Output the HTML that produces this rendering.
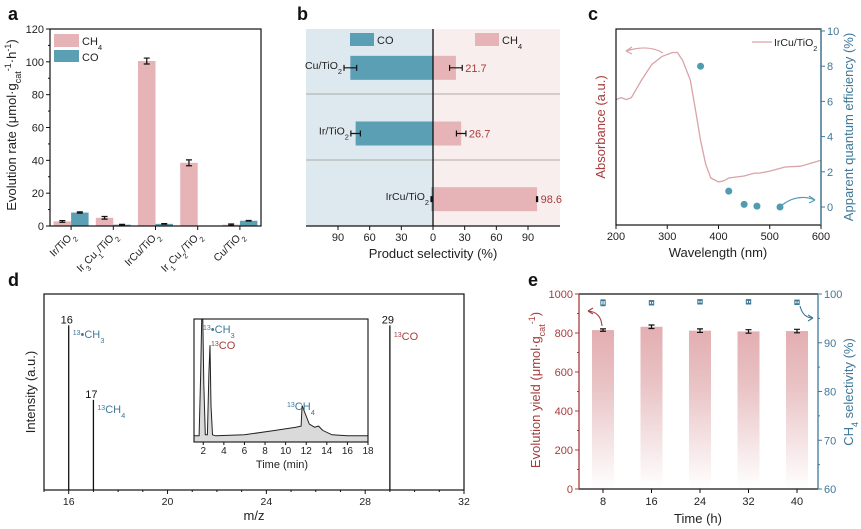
<!DOCTYPE html>
<html><head><meta charset="utf-8"><style>
html,body{margin:0;padding:0;background:#fff}
svg{display:block;font-family:"Liberation Sans",Arial,sans-serif}
</style></head><body>
<svg id="fig" width="861" height="529" viewBox="0 0 861 529" xmlns="http://www.w3.org/2000/svg">
<defs>
<linearGradient id="fade" x1="0" y1="0" x2="0" y2="1">
<stop offset="0" stop-color="#e3aeb1"/><stop offset="0.35" stop-color="#e9c3c5"/><stop offset="1" stop-color="#ffffff"/>
</linearGradient>
</defs>
<g font-weight="bold" font-size="18" fill="#111">
<text x="8" y="20">a</text>
<text x="297" y="20">b</text>
<text x="588" y="20">c</text>
<text x="8" y="286">d</text>
<text x="528" y="286">e</text>
</g>
<g id="pa"></g>
<g id="pb"></g>
<g id="pc"></g>
<g id="pd"></g>
<g id="pe"></g>
</svg>
<script>
// ---- Panel a data
const aCats = ["Ir/TiO|2", "Ir|3|Cu|1|/TiO|2", "IrCu/TiO|2", "Ir|1|Cu|2|/TiO|2", "Cu/TiO|2"];
const aCH4 = [2.8, 5.0, 100.5, 38.5, 0.8];
const aCH4Err = [0.5, 0.8, 1.8, 1.8, 0.4];
const aCO = [8.2, 0.8, 1.3, 0, 3.2];
const aCOErr = [0.4, 0.2, 0.2, 0, 0.2];
const aTicks = [0, 20, 40, 60, 80, 100, 120];
// ---- Panel b data
const bCats = ["Cu/TiO|2", "Ir/TiO|2", "IrCu/TiO|2"];
const bCO = [78.3, 73.3, 1.4];
const bCOErr = [6, 4.5, 0.5];
const bCH4 = [21.7, 26.7, 98.6];
const bCH4Err = [6, 4.5, 0.5];
const bTicks = [-90, -60, -30, 0, 30, 60, 90];
// ---- Panel c data
const cWave = [200,210,220,230,250,270,290,310,320,330,345,355,365,375,385,400,410,420,450,470,480,500,530,560,600];
const cAbs = [64,65,64,65,74,82,86,88,88,84,74,59,43,31,24,22,22.5,24,25,26.5,26.5,27.5,29.6,30,33];
const cAqeWave = [365, 420, 450, 475, 520];
const cAqe = [8.0, 0.9, 0.15, 0.05, 0.0];
const cXTicks = [200, 300, 400, 500, 600];
const cYTicks = [0, 2, 4, 6, 8, 10];
// ---- Panel d data
const dMz = [16, 17, 29];
const dInt = [0.84, 0.46, 0.84];
const dXTicks = [16, 20, 24, 28, 32];
const gcTime = [1.1,1.6,1.75,1.85,1.95,2.05,2.2,2.4,2.55,2.65,2.75,2.9,3.2,6,9,11,11.5,11.6,11.8,12.3,12.8,13.2,13.6,14.5,16,18];
const gcSig = [0.02,0.02,0.6,1.3,1.3,0.5,0.03,0.03,0.6,0.86,0.3,0.03,0.02,0.03,0.07,0.1,0.11,0.3,0.25,0.13,0.1,0.11,0.07,0.03,0.02,0.02];
const gcTicks = [2,4,6,8,10,12,14,16,18];
// ---- Panel e data
const eTime = [8, 16, 24, 32, 40];
const eYield = [815, 832, 812, 808, 810];
const eYieldErr = [6, 9, 9, 9, 9];
const eSel = [98.2, 98.2, 98.4, 98.4, 98.3];
const eSelErr = [0.6, 0.3, 0.3, 0.3, 0.3];
const eYTicks = [0, 200, 400, 600, 800, 1000];
const eY2Ticks = [60, 70, 80, 90, 100];

const NS = "http://www.w3.org/2000/svg";
function mk(parent, tag, attrs, text) {
  const e = document.createElementNS(NS, tag);
  for (const k in attrs) e.setAttribute(k, attrs[k]);
  if (text !== undefined) e.textContent = text;
  parent.appendChild(e);
  return e;
}
// label with "base|sub|base|sub" pattern
function subText(parent, attrs, spec, fs) {
  const t = mk(parent, "text", attrs);
  const parts = spec.split("|");
  parts.forEach((p, i) => {
    const ts = mk(t, "tspan", i % 2 ? {"font-size": fs * 0.7, "baseline-shift": "sub"} : {}, p);
  });
  return t;
}
const PINK = "#e6b4b7", TEAL = "#5a9fb3", RED = "#a63c3c", BLUE = "#3f7898";

// ================= Panel A
(function () {
  const g = document.getElementById("pa");
  const L = 50, R = 261, T = 29, B = 226;
  const y = v => B - (v / 120) * (B - T);
  const cw = (R - L) / aCats.length;
  const cx = i => L + cw * (i + 0.5);
  const bw = 17.5;
  aCats.forEach((c, i) => {
    const r1 = mk(g, "rect", {x: cx(i) - bw, y: y(aCH4[i]), width: bw, height: B - y(aCH4[i]), fill: PINK});
    
    
    const r2 = mk(g, "rect", {x: cx(i), y: y(aCO[i]), width: bw, height: B - y(aCO[i]), fill: TEAL});
    
    
    [[cx(i) - bw / 2, aCH4[i], aCH4Err[i]], [cx(i) + bw / 2, aCO[i], aCOErr[i]]].forEach(([xx, v, e]) => {
      if (v <= 0) return;
      const eb = mk(g, "path", {d: `M${xx},${y(v + e)}V${y(v - e)}M${xx - 3},${y(v + e)}H${xx + 3}M${xx - 3},${y(v - e)}H${xx + 3}`, stroke: "#111", "stroke-width": 1.2, fill: "none"});
      
      
    });
    const lab = subText(g, {x: cx(i) + 4, y: B + 10, "font-size": 10.5, fill: "#222", "text-anchor": "end", transform: `rotate(-45 ${cx(i) + 4} ${B + 10})`}, c, 10.5);
    
    
    mk(g, "line", {x1: cx(i), x2: cx(i), y1: B, y2: B + 4, stroke: "#111"});
  });
  aTicks.forEach(t => {
    mk(g, "line", {x1: L - 4, x2: L, y1: y(t), y2: y(t), stroke: "#111"});
    if (t < 120) mk(g, "line", {x1: L - 2, x2: L, y1: y(t + 10), y2: y(t + 10), stroke: "#111"});
    const tl = mk(g, "text", {x: L - 6, y: y(t) + 4, "font-size": 11, fill: "#222", "text-anchor": "end"}, t);
    
    
  });
  mk(g, "rect", {x: L, y: T, width: R - L, height: B - T, fill: "none", stroke: "#111", "stroke-width": 1.2,  });
  const yt = mk(g, "text", {x: 0, y: 0, "font-size": 13, fill: "#222", "text-anchor": "middle", transform: "translate(16 125) rotate(-90)",  });
  mk(yt, "tspan", {}, "Evolution rate (μmol·g");
  mk(yt, "tspan", {"font-size": 9, "baseline-shift": "sub"}, "cat");
  mk(yt, "tspan", {"font-size": 9, "baseline-shift": "super"}, "-1");
  mk(yt, "tspan", {}, "·h");
  mk(yt, "tspan", {"font-size": 9, "baseline-shift": "super"}, "-1");
  mk(yt, "tspan", {}, ")");
  mk(g, "rect", {x: 54, y: 34, width: 25, height: 13, fill: PINK,  });
  subText(g, {x: 82, y: 45, "font-size": 11, fill: "#222",  }, "CH|4", 11);
  mk(g, "rect", {x: 54, y: 50, width: 25, height: 12, fill: TEAL,  });
  mk(g, "text", {x: 82, y: 61, "font-size": 11, fill: "#222",  }, "CO");
})();

// ================= Panel B
(function () {
  const g = document.getElementById("pb");
  const L = 306, R = 560, T = 29, B = 226, Z = 433;
  const x = v => Z + v * (95 / 90);
  mk(g, "rect", {x: L, y: T, width: Z - L, height: B - T, fill: "#dde9ee"});
  mk(g, "rect", {x: Z, y: T, width: R - Z, height: B - T, fill: "#f9eeee"});
  [94, 160].forEach(yy => mk(g, "line", {x1: L, x2: R, y1: yy, y2: yy, stroke: "#aaa", "stroke-width": 1}));
  const rowH = (B - T) / 3;
  bCats.forEach((c, i) => {
    const yc = T + rowH * (i + 0.5) + 6;
    const h = 24;
    const r1 = mk(g, "rect", {x: x(-bCO[i]), y: yc - h / 2, width: Z - x(-bCO[i]), height: h, fill: TEAL});
    
    
    const r2 = mk(g, "rect", {x: Z, y: yc - h / 2, width: x(bCH4[i]) - Z, height: h, fill: PINK});
    
    
    const eb = (v, e) => `M${x(v - e)},${yc}H${x(v + e)}M${x(v - e)},${yc - 3}V${yc + 3}M${x(v + e)},${yc - 3}V${yc + 3}`;
    mk(g, "path", {d: eb(-bCO[i], bCOErr[i]) + eb(bCH4[i], bCH4Err[i]), stroke: "#111", "stroke-width": 1.2, fill: "none",  });
    const lab = subText(g, {x: x(-bCO[i] - bCOErr[i]) - 2, y: yc + 1, "font-size": 10.5, fill: "#222", "text-anchor": "end"}, c, 10.5);
    
    
    const vl = mk(g, "text", {x: x(bCH4[i] + bCH4Err[i]) + 3, y: yc + 4, "font-size": 11, fill: RED}, bCH4[i].toFixed(1));
    
    
  });
  mk(g, "line", {x1: Z, x2: Z, y1: T, y2: B, stroke: "#111", "stroke-width": 1.3});
  mk(g, "line", {x1: L, x2: R, y1: B, y2: B, stroke: "#111", "stroke-width": 1.2});
  bTicks.forEach(t => {
    mk(g, "line", {x1: x(t), x2: x(t), y1: B, y2: B + 4, stroke: "#111"});
    const tl = mk(g, "text", {x: x(t), y: B + 15, "font-size": 11, fill: "#222", "text-anchor": "middle"}, Math.abs(t));
    
    
  });
  mk(g, "text", {x: Z, y: B + 32, "font-size": 13, fill: "#222", "text-anchor": "middle",  }, "Product selectivity (%)");
  mk(g, "rect", {x: 350, y: 33, width: 24, height: 13, fill: TEAL,  });
  mk(g, "text", {x: 377, y: 44, "font-size": 11, fill: "#222",  }, "CO");
  mk(g, "rect", {x: 475, y: 33, width: 24, height: 13, fill: PINK,  });
  subText(g, {x: 502, y: 44, "font-size": 11, fill: "#222",  }, "CH|4", 11);
})();

// ================= Panel C
(function () {
  const g = document.getElementById("pc");
  const L = 616, R = 821, T = 29, B = 225;
  const x = w => L + (w - 200) / 400 * (R - L);
  const ya = v => B - v * 1.96;
  const yq = v => 207 - v * 17.6;
  const d = cWave.map((w, i) => (i ? "L" : "M") + x(w).toFixed(1) + "," + ya(cAbs[i]).toFixed(1)).join("");
  mk(g, "path", {d, fill: "none", stroke: "#d9a3a8", "stroke-width": 1.3,  });
  cAqeWave.forEach((w, i) => {
    const c = mk(g, "circle", {cx: x(w), cy: yq(cAqe[i]), r: 3.5, fill: "#4f9bb0"});
    
    
  });
  mk(g, "rect", {x: L, y: T, width: R - L, height: B - T, fill: "none", stroke: "#111", "stroke-width": 1.2});
  mk(g, "line", {x1: R, x2: R, y1: T, y2: B, stroke: BLUE, "stroke-width": 1.3});
  cXTicks.forEach(t => {
    mk(g, "line", {x1: x(t), x2: x(t), y1: B, y2: B + 4, stroke: "#111"});
    const tl = mk(g, "text", {x: x(t), y: B + 15, "font-size": 11, fill: "#222", "text-anchor": "middle"}, t);
    
    
  });
  cYTicks.forEach(t => {
    mk(g, "line", {x1: R, x2: R + 4, y1: yq(t), y2: yq(t), stroke: BLUE});
    const tl = mk(g, "text", {x: R + 6, y: yq(t) + 4, "font-size": 11, fill: BLUE}, t);
    
    
  });
  mk(g, "text", {x: 718, y: B + 32, "font-size": 13, fill: "#222", "text-anchor": "middle",  }, "Wavelength (nm)");
  mk(g, "text", {x: 0, y: 0, "font-size": 13, fill: RED, "text-anchor": "middle", transform: "translate(605 127) rotate(-90)",  }, "Absorbance (a.u.)");
  mk(g, "text", {x: 0, y: 0, "font-size": 13, fill: BLUE, "text-anchor": "middle", transform: "translate(853 127) rotate(-90)",  }, "Apparent quantum efficiency (%)");
  mk(g, "line", {x1: 752, x2: 772, y1: 42, y2: 42, stroke: "#d9a3a8", "stroke-width": 1.3,  });
  subText(g, {x: 774, y: 46, "font-size": 10.5, fill: "#222",  }, "IrCu/TiO|2", 10.5);
  mk(g, "path", {d: "M663,53 Q648,44 626,51", fill: "none", stroke: "#d9a3a8", "stroke-width": 1.2});
  mk(g, "path", {d: "M626,51 l6,-4 M626,51 l6,3", fill: "none", stroke: "#d9a3a8", "stroke-width": 1.2});
  mk(g, "path", {d: "M782,205 Q798,193 815,200", fill: "none", stroke: "#4f9bb0", "stroke-width": 1.2});
  mk(g, "path", {d: "M815,200 l-6,-4 M815,200 l-6,3", fill: "none", stroke: "#4f9bb0", "stroke-width": 1.2});
})();

// ================= Panel D
(function () {
  const g = document.getElementById("pd");
  const L = 44, R = 464, T = 294, B = 490;
  const x = m => L + (m - 15) / 17 * (R - L);
  const y = v => B - v * (B - T);
  dMz.forEach((m, i) => {
    const ln = mk(g, "line", {x1: x(m), x2: x(m), y1: B, y2: y(dInt[i]), stroke: "#111", "stroke-width": 1.3});
    
    
    const pl = mk(g, "text", {x: x(m) - 2, y: y(dInt[i]) - 2, "font-size": 11, fill: "#111", "text-anchor": "middle"}, m);
    
    
  });
  function iso(x0, y0, base, sub, color, nm) {
    const t = mk(g, "text", {x: x0, y: y0, "font-size": 11, fill: color,  });
    mk(t, "tspan", {"font-size": 7, "baseline-shift": "super"}, "13");
    mk(t, "tspan", {}, base);
    if (sub) mk(t, "tspan", {"font-size": 7.5, "baseline-shift": "sub"}, sub);
  }
  iso(x(16) + 4, 338, "•CH", "3", BLUE, "label-13ch3");
  iso(x(17) + 4, 413, "CH", "4", BLUE, "label-13ch4");
  iso(x(29) + 4, 340, "CO", "", RED, "label-13co");
  mk(g, "rect", {x: L, y: T, width: R - L, height: B - T, fill: "none", stroke: "#111", "stroke-width": 1.2});
  for (let m = 15; m <= 32; m++) mk(g, "line", {x1: x(m), x2: x(m), y1: B, y2: B + (m % 4 === 0 ? 4 : 2), stroke: "#111"});
  dXTicks.forEach(t => {
    const tl = mk(g, "text", {x: x(t), y: B + 15, "font-size": 10.5, fill: "#222", "text-anchor": "middle"}, t);
    
    
  });
  mk(g, "text", {x: 254, y: B + 30, "font-size": 13, fill: "#222", "text-anchor": "middle",  }, "m/z");
  mk(g, "text", {x: 0, y: 0, "font-size": 13, fill: "#222", "text-anchor": "middle", transform: "translate(35 392) rotate(-90)",  }, "Intensity (a.u.)");
  // inset
  const iL = 194, iR = 368, iT = 319, iB = 442;
  const ix = t => iL + (t - 1.1) / 16.9 * (iR - iL);
  const iy = v => 438 - v * 108;
  const pts = gcTime.map((t, i) => [ix(t), Math.max(iT, iy(gcSig[i]))]);
  const line = pts.map((p, i) => (i ? "L" : "M") + p[0].toFixed(1) + "," + p[1].toFixed(1)).join("");
  mk(g, "path", {d: line + `L${ix(18)},${iB}L${ix(1.1)},${iB}Z`, fill: "#dadada", stroke: "none",  });
  mk(g, "path", {d: line, fill: "none", stroke: "#222", "stroke-width": 1,  });
  mk(g, "rect", {x: iL, y: iT, width: iR - iL, height: iB - iT, fill: "none", stroke: "#111", "stroke-width": 1.1,  });
  gcTicks.forEach(t => {
    mk(g, "line", {x1: ix(t), x2: ix(t), y1: iB, y2: iB + 3, stroke: "#111"});
    const tl = mk(g, "text", {x: ix(t), y: iB + 12, "font-size": 10, fill: "#222", "text-anchor": "middle"}, t);
    
    
  });
  mk(g, "text", {x: 282, y: iB + 26, "font-size": 11, fill: "#222", "text-anchor": "middle",  }, "Time (min)");
  iso(203, 333, "•CH", "3", BLUE, "inset-label-13ch3");
  iso(211, 349, "CO", "", RED, "inset-label-13co");
  iso(287, 410, "CH", "4", BLUE, "inset-label-13ch4");
})();

// ================= Panel E
(function () {
  const g = document.getElementById("pe");
  const L = 579, R = 818, T = 294, B = 489;
  const x = t => 603 + (t - 8) / 32 * 194;
  const y = v => B - v / 1000 * (B - T);
  const y2 = v => B - (v - 60) / 40 * (B - T);
  eTime.forEach((t, i) => {
    const r = mk(g, "rect", {x: x(t) - 11, y: y(eYield[i]), width: 22, height: B - y(eYield[i]), fill: "url(#fade)"});
    
    
    const v = eYield[i], e = eYieldErr[i], xx = x(t);
    mk(g, "path", {d: `M${xx},${y(v + e)}V${y(v - e)}M${xx - 3},${y(v + e)}H${xx + 3}M${xx - 3},${y(v - e)}H${xx + 3}`, stroke: "#111", "stroke-width": 1.2, fill: "none",  });
    const s = eSel[i], se = eSelErr[i];
    mk(g, "path", {d: `M${xx},${y2(s + se)}V${y2(s - se)}M${xx - 2.5},${y2(s + se)}H${xx + 2.5}M${xx - 2.5},${y2(s - se)}H${xx + 2.5}`, stroke: BLUE, "stroke-width": 1, fill: "none"});
    const c = mk(g, "rect", {x: xx - 2.2, y: y2(s) - 2.2, width: 4.4, height: 4.4, fill: "none", stroke: BLUE, "stroke-width": 1});
    
    
    mk(g, "line", {x1: xx, x2: xx, y1: B, y2: B + 4, stroke: "#111"});
    const tl = mk(g, "text", {x: xx, y: B + 16, "font-size": 11, fill: "#222", "text-anchor": "middle"}, t);
    
    
  });
  mk(g, "line", {x1: L, x2: R, y1: T, y2: T, stroke: "#111", "stroke-width": 1.2});
  mk(g, "line", {x1: L, x2: R, y1: B, y2: B, stroke: "#111", "stroke-width": 1.2});
  mk(g, "line", {x1: L, x2: L, y1: T, y2: B, stroke: RED, "stroke-width": 1.3});
  mk(g, "line", {x1: R, x2: R, y1: T, y2: B, stroke: BLUE, "stroke-width": 1.3});
  eYTicks.forEach(t => {
    mk(g, "line", {x1: L - 4, x2: L, y1: y(t), y2: y(t), stroke: RED});
    if (t < 1000) mk(g, "line", {x1: L - 2, x2: L, y1: y(t + 100), y2: y(t + 100), stroke: RED});
    const tl = mk(g, "text", {x: L - 6, y: y(t) + 4, "font-size": 11, fill: RED, "text-anchor": "end"}, t);
    
    
  });
  eY2Ticks.forEach(t => {
    mk(g, "line", {x1: R, x2: R + 4, y1: y2(t), y2: y2(t), stroke: BLUE});
    if (t < 100) mk(g, "line", {x1: R, x2: R + 2, y1: y2(t + 5), y2: y2(t + 5), stroke: BLUE});
    const tl = mk(g, "text", {x: R + 6, y: y2(t) + 4, "font-size": 11, fill: BLUE}, t);
    
    
  });
  mk(g, "text", {x: 698, y: B + 34, "font-size": 13, fill: "#222", "text-anchor": "middle",  }, "Time (h)");
  const yt = mk(g, "text", {x: 0, y: 0, "font-size": 13, fill: RED, "text-anchor": "middle", transform: "translate(540 390) rotate(-90)",  });
  mk(yt, "tspan", {}, "Evolution yield (μmol·g");
  mk(yt, "tspan", {"font-size": 9, "baseline-shift": "sub"}, "cat");
  mk(yt, "tspan", {"font-size": 9, "baseline-shift": "super"}, "-1");
  mk(yt, "tspan", {}, ")");
  const y2t = mk(g, "text", {x: 0, y: 0, "font-size": 13, fill: BLUE, "text-anchor": "middle", transform: "translate(853 392) rotate(-90)",  });
  mk(y2t, "tspan", {}, "CH");
  mk(y2t, "tspan", {"font-size": 9, "baseline-shift": "sub"}, "4");
  mk(y2t, "tspan", {}, " selectivity (%)");
  mk(g, "path", {d: "M602,326 Q601,312 588,311", fill: "none", stroke: RED, "stroke-width": 1.1});
  mk(g, "path", {d: "M588,311 l5,-3 M588,311 l5,3", fill: "none", stroke: RED, "stroke-width": 1.1});
  mk(g, "path", {d: "M800,306 Q803,318 813,318", fill: "none", stroke: BLUE, "stroke-width": 1.1});
  mk(g, "path", {d: "M813,318 l-5,-3 M813,318 l-5,3", fill: "none", stroke: BLUE, "stroke-width": 1.1});
})();
</script>
</body></html>
